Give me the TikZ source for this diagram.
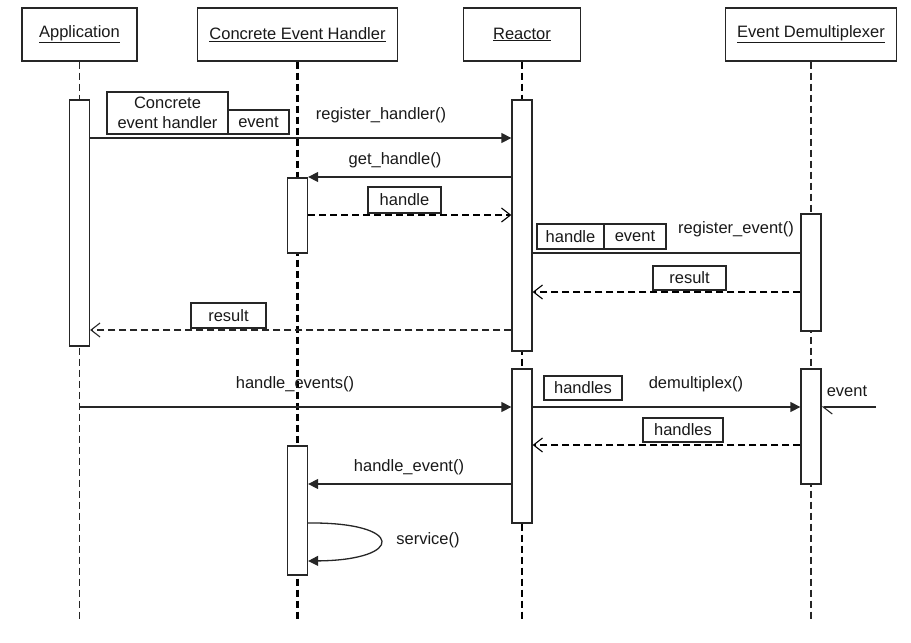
\documentclass[tikz,border=0pt]{standalone}
\usepackage{fontspec}
\setmainfont{Liberation Sans}
\usetikzlibrary{arrows.meta}
\begin{document}
\begin{tikzpicture}[x=1pt,y=-1pt,
  every node/.style={font=\fontsize{16.5}{20}\selectfont, inner sep=0pt, text=black!90},
  head/.style={draw=black!85, line width=1.3pt, minimum height=53pt, fill=white},
  act/.style={draw=black!85, line width=1.3pt, minimum width=20pt, fill=white},
  lifethin/.style={draw=black!85, line width=1.2pt, dash pattern=on 7pt off 4pt},
  lifethick/.style={draw=black, line width=2.6pt, dash pattern=on 7pt off 4pt},
  call/.style={draw=black!85, line width=1.3pt, -{Triangle[length=10pt,width=10pt]}},
  plain/.style={draw=black!85, line width=1.3pt},
  ret/.style={draw=black, line width=2.2pt, dash pattern=on 7pt off 4pt, -{Straight Barb[length=9pt,width=14pt,line width=1.1pt]}},
  retthin/.style={draw=black!85, line width=1.4pt, dash pattern=on 7pt off 4pt, -{Straight Barb[length=9pt,width=14pt,line width=1.1pt]}},
  lbl/.style={draw=black!85, line width=1.3pt, fill=white},
]
\useasboundingbox (0,0) rectangle (911,643);

% headers
\node[head, minimum width=115pt] (app) at (79.5,34.5) {\raisebox{-2pt}{\underline{Application}}};
\node[head, minimum width=200pt] (ceh) at (297.5,34.5) {\raisebox{-2pt}{\underline{Concrete Event Handler}}};
\node[head, minimum width=117pt] (rea) at (522,34.5) {\raisebox{-2pt}{\underline{Reactor}}};
\node[head, minimum width=171pt] (edm) at (811,34.5) {\raisebox{-2pt}{\underline{Event Demultiplexer}}};

% lifeline ends
\coordinate (bot) at (0,620);
\draw[lifethin] (app.south) -- (app.south |- bot);
\draw[lifethick] (ceh.south) -- (ceh.south |- bot);
\draw[lifethick] (rea.south) -- (rea.south |- bot);
\draw[lifethin] (edm.south) -- (edm.south |- bot);

% activations
\node[act, minimum height=246pt] (appA) at (79.5,223) {};
\node[act, minimum height=75pt] (cehA) at (297.5,215.5) {};
\node[act, minimum height=129pt] (cehB) at (297.5,510.5) {};
\node[act, minimum height=251pt] (reaA) at (522,225.5) {};
\node[act, minimum height=154pt] (reaB) at (522,446) {};
\node[act, minimum height=117pt] (edmA) at (811,272.5) {};
\node[act, minimum height=115pt] (edmB) at (811,426.5) {};

% message levels
\coordinate (m1) at (0,138);
\coordinate (m2) at (0,177);
\coordinate (m3) at (0,215);
\coordinate (m4) at (0,253);
\coordinate (m5) at (0,292);
\coordinate (m6) at (0,330);
\coordinate (m7) at (0,407);
\coordinate (m8) at (0,445);
\coordinate (m9) at (0,484);
\coordinate (s1) at (0,523);
\coordinate (s2) at (0,561);
\coordinate (evsrc) at (876,407);

% messages
\draw[call] (appA.east |- m1) -- (reaA.west |- m1);
\draw[call] (reaA.west |- m2) -- (cehA.east |- m2);
\draw[ret] (cehA.east |- m3) -- (reaA.west |- m3);
\draw[plain] (reaA.east |- m4) -- (edmA.west |- m4);
\draw[ret] (edmA.west |- m5) -- (reaA.east |- m5);
\draw[retthin] (reaA.west |- m6) -- (appA.east |- m6);
\draw[call] (app.south |- m7) -- (reaB.west |- m7);
\draw[call] (reaB.east |- m7) -- (edmB.west |- m7);
\draw[plain, -{Straight Barb[left,length=9pt,width=14pt,line width=1.1pt]}] (evsrc) -- (edmB.east |- m7);
\draw[ret] (edmB.west |- m8) -- (reaB.east |- m8);
\draw[call] (reaB.west |- m9) -- (cehB.east |- m9);
\draw[call] (cehB.east |- s1) .. controls (405,522) and (405,560) .. (cehB.east |- s2);

% labels
\node (l1) at (381,115) {register\_handler()};
\node (l2) at (395,160) {get\_handle()};
\node (l4) at (736,229) {register\_event()};
\node (l7) at (295,384) {handle\_events()};
\node (l8) at (696,384) {demultiplex()};
\node (l9) at (847,391) {event};
\node (l11) at (409,467) {handle\_event()};
\node (l12) at (428,540) {service()};

% argument boxes
\node[lbl, minimum width=121pt, minimum height=42pt, align=center] (b1) at (167.5,113) {Concrete\\event handler};
\node[lbl, minimum width=61pt, minimum height=24pt] (b2) at (258.5,122) {event};
\node[lbl, minimum width=73pt, minimum height=26pt] (b3) at (404.5,200) {handle};
\node[lbl, minimum width=67pt, minimum height=25pt] (b4) at (570.5,236.5) {handle};
\node[lbl, minimum width=62pt, minimum height=25pt] (b5) at (635,236.5) {event};
\node[lbl, minimum width=73pt, minimum height=24pt] (b6) at (689.5,278) {result};
\node[lbl, minimum width=75pt, minimum height=25pt] (b7) at (228.5,315.5) {result};
\node[lbl, minimum width=78pt, minimum height=24pt] (b8) at (583,388) {handles};
\node[lbl, minimum width=80pt, minimum height=24pt] (b9) at (683,430) {handles};
\end{tikzpicture}
\end{document}
